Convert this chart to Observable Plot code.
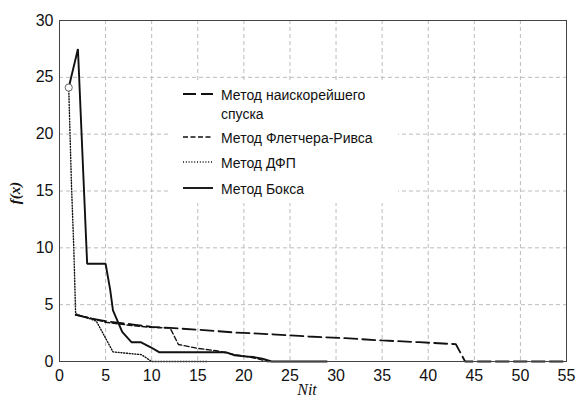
<!DOCTYPE html>
<html>
<head>
<meta charset="utf-8">
<script src="https://cdn.jsdelivr.net/npm/d3@7"></script>
<script src="https://cdn.jsdelivr.net/npm/@observablehq/plot@0.6"></script>
<style>
  html, body { margin: 0; padding: 0; background: white; }
  #wrap { position: relative; width: 576px; height: 403px; }
  #legend { position: absolute; left: 170px; top: 80px; }
</style>
</head>
<body>
<div id="wrap"></div>
<script>
// ---- data ----
const xTicks = [0, 5, 10, 15, 20, 25, 30, 35, 40, 45, 50, 55];
const yTicks = [0, 5, 10, 15, 20, 25, 30];

const startX = [1];
const startY = [24.1];

// Метод наискорейшего спуска
const steepX = [1.75, 3, 5, 8, 10, 12, 15, 19, 23, 27, 31, 35, 39, 43, 44, 55];
const steepY = [4.1, 3.85, 3.55, 3.25, 3.05, 2.95, 2.8, 2.55, 2.4, 2.2, 2.05, 1.85, 1.7, 1.52, 0, 0];

// Метод Флетчера-Ривса
const frX = [1.75, 3, 5, 8, 10, 12, 12.9, 15, 17, 19, 20, 21.5, 22.5, 23];
const frY = [4.1, 3.9, 3.45, 3.15, 3.0, 2.95, 1.5, 1.15, 0.95, 0.6, 0.5, 0.25, 0, 0];

// Метод ДФП
const dfpX = [1, 1.3, 1.55, 1.75, 4, 5.8, 7, 8.9, 10, 16];
const dfpY = [24.1, 15.5, 10, 4.2, 3.55, 0.85, 0.75, 0.6, 0, 0];

// Метод Бокса
const boxX = [1, 2, 3, 5, 5.5, 5.8, 6.8, 7.8, 8.8, 9.9, 10.8, 18, 19, 20, 21, 22, 23, 29];
const boxY = [24.1, 27.5, 8.6, 8.6, 6.3, 4.5, 2.6, 1.7, 1.7, 1.25, 0.82, 0.82, 0.55, 0.45, 0.4, 0.25, 0, 0];

const legendLabels = ["Метод наискорейшего\nспуска", "Метод Флетчера-Ривса", "Метод ДФП", "Метод Бокса"];
const xLabel = "Nit";
const yLabel = "f(x)";

// ---- styles per series (presentation) ----
const seriesStyles = [
  {dash: "13,5", width: 1.8},
  {dash: "5,2.5", width: 1.4},
  {dash: "1,1.8", width: 1.4},
  {dash: null, width: 1.9}
];

const toRows = (xs, ys) => xs.map((x, i) => ({x, y: ys[i]}));
const series = [toRows(steepX, steepY), toRows(frX, frY), toRows(dfpX, dfpY), toRows(boxX, boxY)];
const start = toRows(startX, startY);

const lineMarks = series.map((rows, i) => Plot.line(rows, {
  x: "x", y: "y", stroke: "#111", strokeWidth: seriesStyles[i].width,
  strokeDasharray: seriesStyles[i].dash ?? undefined, strokeLinejoin: "miter"
}));

const chart = Plot.plot({
  width: 576,
  height: 403,
  marginLeft: 59,
  marginRight: 10,
  marginTop: 20,
  marginBottom: 42,
  x: {domain: [0, 55]},
  y: {domain: [0, 30]},
  style: {fontFamily: "'Liberation Sans', Arial, sans-serif", fontSize: "16px", color: "#111", background: "white", overflow: "visible"},
  marks: [
    Plot.gridX(xTicks, {stroke: "#bcbcbc", strokeOpacity: 1, strokeDasharray: "4,3"}),
    Plot.gridY(yTicks, {stroke: "#bcbcbc", strokeOpacity: 1, strokeDasharray: "4,3"}),
    Plot.axisX(xTicks, {tickSize: 0, tickPadding: 8, label: null, fontSize: 16}),
    Plot.axisY(yTicks, {tickSize: 0, tickPadding: 6, label: null, fontSize: 16}),
    ...lineMarks,
    Plot.dot(start, {x: "x", y: "y", r: 3.6, fill: "white", stroke: "#666", strokeWidth: 1}),
    Plot.frame({stroke: "#444", strokeWidth: 1}),
    Plot.text([yLabel], {frameAnchor: "left", dx: -44, dy: 2, rotate: -90, textAnchor: "middle", lineAnchor: "middle",
      fontFamily: "'Liberation Serif', 'Times New Roman', serif", fontStyle: "italic", fontWeight: "bold", fontSize: 15, fill: "#111"}),
    Plot.text([xLabel], {frameAnchor: "bottom", dy: 33, dx: -6,
      fontFamily: "'Liberation Serif', 'Times New Roman', serif", fontStyle: "italic", fontSize: 16, fill: "#111"})
  ]
});

const wrap = document.getElementById("wrap");
wrap.appendChild(chart);

// ---- legend overlay (white box over the grid) ----
const lg = d3.select(wrap).append("svg")
  .attr("id", "legend")
  .attr("width", 228).attr("height", 123)
  .style("background", "white");
const rowY = [15, 58, 83, 109];
legendLabels.forEach((lab, i) => {
  const y = rowY[i];
  const st = seriesStyles[i];
  lg.append("line")
    .attr("x1", 13).attr("x2", 43).attr("y1", y - 1).attr("y2", y - 1)
    .attr("stroke", "#111").attr("stroke-width", st.width)
    .attr("stroke-dasharray", st.dash);
  const t = lg.append("text")
    .attr("x", 51).attr("y", y)
    .attr("font-family", "'Liberation Sans', Arial, sans-serif")
    .attr("font-size", 14).attr("fill", "#111");
  lab.split("\n").forEach((part, j) => {
    t.append("tspan").attr("x", 51).attr("dy", j === 0 ? "0.35em" : "1.36em").text(part);
  });
});
</script>
</body>
</html>
